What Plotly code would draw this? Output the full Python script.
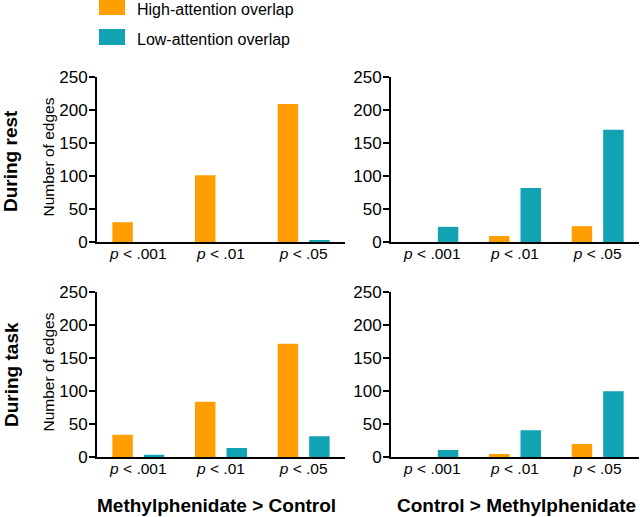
import plotly.graph_objects as go

categories = ["<i>p</i> < .001", "<i>p</i> < .01", "<i>p</i> < .05"]
series_names = ["High-attention overlap", "Low-attention overlap"]
colors = ["#FF9E00", "#11A3B3"]

rest_mph_high = [30, 101, 209]
rest_mph_low = [0, 0, 3]
rest_ctl_high = [0, 9, 24]
rest_ctl_low = [23, 82, 170]
task_mph_high = [34, 84, 172]
task_mph_low = [4, 14, 32]
task_ctl_high = [0, 5, 20]
task_ctl_low = [11, 41, 100]

W, H = 640, 517
def px(x): return x / W
def py(y): return (H - y) / H

fig = go.Figure()
panels = [
    ("x", "y", rest_mph_high, rest_mph_low),
    ("x2", "y2", rest_ctl_high, rest_ctl_low),
    ("x3", "y3", task_mph_high, task_mph_low),
    ("x4", "y4", task_ctl_high, task_ctl_low),
]
for xa, ya, hi, lo in panels:
    fig.add_trace(go.Bar(x=categories, y=hi, marker=dict(color=colors[0], line=dict(width=0)),
                         name=series_names[0], showlegend=False, xaxis=xa, yaxis=ya))
    fig.add_trace(go.Bar(x=categories, y=lo, marker=dict(color=colors[1], line=dict(width=0)),
                         name=series_names[1], showlegend=False, xaxis=xa, yaxis=ya))

font = "Liberation Sans, Arial, sans-serif"
xdoms = [[px(97), px(345)], [px(391), px(639)]]
ydoms = [[py(242), py(77)], [py(457.3), py(292.3)]]

def xaxis(dom, anchor):
    return dict(domain=dom, anchor=anchor, showline=True, linecolor="black", linewidth=2,
                ticks="", showgrid=False, zeroline=False, range=[-0.5, 2.5], automargin=False,
                ticklabelstandoff=-4,
                tickfont=dict(family=font, size=15.5, color="black"), fixedrange=True)

def yaxis(dom, anchor):
    return dict(domain=dom, anchor=anchor, showline=True, linecolor="black", linewidth=2,
                ticks="outside", ticklen=6, tickwidth=2, tickcolor="black", showgrid=False,
                zeroline=False, range=[0, 250], tickvals=[0, 50, 100, 150, 200, 250],
                automargin=False, ticklabelstandoff=-2,
                tickfont=dict(family=font, size=17, color="black"), fixedrange=True)

fig.update_layout(
    width=W, height=H, margin=dict(l=0, r=0, t=0, b=0, autoexpand=False),
    paper_bgcolor="white", plot_bgcolor="white",
    barmode="group", bargap=0.238, bargroupgap=0.35,
    showlegend=False,
    xaxis=xaxis(xdoms[0], "y"), yaxis=yaxis(ydoms[0], "x"),
    xaxis2=xaxis(xdoms[1], "y2"), yaxis2=yaxis(ydoms[0], "x2"),
    xaxis3=xaxis(xdoms[0], "y3"), yaxis3=yaxis(ydoms[1], "x3"),
    xaxis4=xaxis(xdoms[1], "y4"), yaxis4=yaxis(ydoms[1], "x4"),
)

# legend
for i, (name, c) in enumerate(zip(series_names, colors)):
    top = -1 + i * 30
    fig.add_shape(type="rect", xref="paper", yref="paper", x0=px(99), x1=px(125),
                  y0=py(top + 16), y1=py(max(0, top)), fillcolor=c, line=dict(width=0))
    fig.add_annotation(xref="paper", yref="paper", x=px(135), y=py(top + 10), text=name,
                       showarrow=False, xanchor="left", yanchor="middle",
                       font=dict(family=font, size=16, color="black"))

# y-axis titles (left column)
for yc in [157.5, 372.5]:
    fig.add_annotation(xref="paper", yref="paper", x=px(48), y=py(yc), text="Number of edges",
                       textangle=-90, showarrow=False, xanchor="center", yanchor="middle",
                       font=dict(family=font, size=15.5, color="black"))

# row labels
for text, yc in [("<b>During rest</b>", 161), ("<b>During task</b>", 375)]:
    fig.add_annotation(xref="paper", yref="paper", x=px(11), y=py(yc), text=text, textangle=-90,
                       showarrow=False, xanchor="center", yanchor="middle",
                       font=dict(family=font, size=19, color="black"))

# column labels
for text, xc in [("<b>Methylphenidate > Control</b>", 216), ("<b>Control > Methylphenidate</b>", 516)]:
    fig.add_annotation(xref="paper", yref="paper", x=px(xc), y=py(505.5), text=text,
                       showarrow=False, xanchor="center", yanchor="middle",
                       font=dict(family=font, size=19, color="black"))

fig.write_html(
    "out.html",
    config={"displayModeBar": False},
    post_script="document.body.style.margin='0';document.body.style.overflow='hidden';"
                "document.documentElement.style.overflow='hidden';",
)
